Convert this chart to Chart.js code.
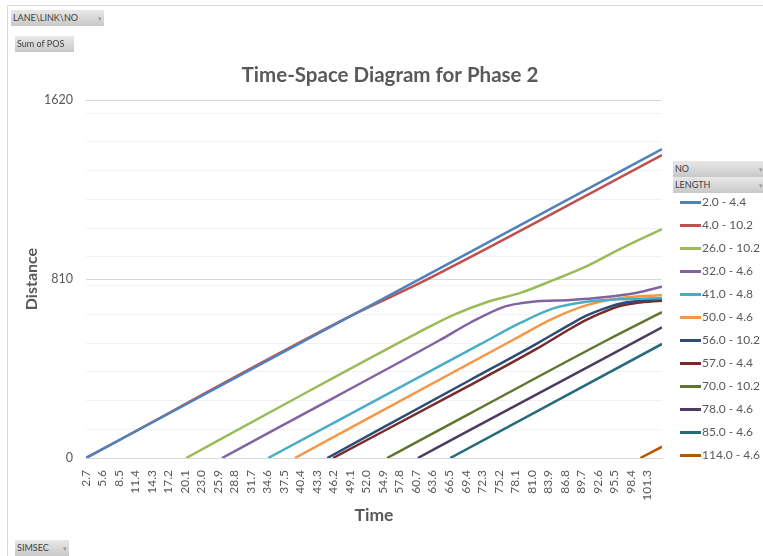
<!DOCTYPE html>
<html>
<head>
<meta charset="utf-8">
<title>Time-Space Diagram for Phase 2</title>
<script src="https://cdn.jsdelivr.net/npm/chart.js@4/dist/chart.umd.min.js"></script>
<style>
  html, body { margin: 0; padding: 0; background: #fff; }
  #wrap { position: relative; width: 763px; height: 556px; overflow: hidden; font-family: Lato, "Liberation Sans", sans-serif; }
  #frame { position: absolute; left: 7px; top: 5px; width: 900px; height: 700px; border-left: 1px solid #d9d9d9; border-top: 1px solid #d9d9d9; }
  #chart { position: absolute; left: 0; top: 0; }
  .field { position: absolute; height: 16px; box-sizing: border-box; padding-left: 2px; font-size: 9px; line-height: 16px; color: #3f3f3f;
           background: linear-gradient(#e8e8e8, #c8c8c8); white-space: nowrap; }
  .field .arr { position: absolute; right: 2px; top: 0; font-size: 7px; color: #9a9a9a; }
  .lg-line { position: absolute; left: 680px; width: 21px; height: 3px; }
  .lg-text { position: absolute; left: 702px; font-size: 12px; line-height: 16px; color: #595959; white-space: nowrap; }
</style>
</head>
<body>
<div id="wrap">
  <div id="frame"></div>
  <canvas id="chart" width="763" height="556"></canvas>
  <div class="field" style="left:11px;top:10px;width:93px;">LANE\LINK\NO<span class="arr">&#9662;</span></div>
  <div class="field" style="left:15px;top:36px;width:59px;">Sum of POS</div>
  <div class="field" style="left:673px;top:161px;width:92px;">NO<span class="arr">&#9662;</span></div>
  <div class="field" style="left:673px;top:177px;width:92px;">LENGTH<span class="arr">&#9662;</span></div>
  <div class="field" style="left:15px;top:540px;width:54px;">SIMSEC<span class="arr">&#9662;</span></div>
  <div id="legend"></div>
</div>
<script>
// Category ticks along the time axis (seconds)
const timeTicks = [2.7, 5.6, 8.5, 11.4, 14.3, 17.2, 20.1, 23.0, 25.9, 28.8, 31.7, 34.6, 37.5, 40.4, 43.3,
  46.2, 49.1, 52.0, 54.9, 57.8, 60.7, 63.6, 66.5, 69.4, 72.3, 75.2, 78.1, 81.0, 83.9, 86.8, 89.7, 92.6,
  95.5, 98.4, 101.3];
const timeMin = 2.7;
const timeMax = 103.9;

// Distance axis: labelled ticks and the lighter in-between grid lines
const distanceTicks = [0, 810, 1620];
const distanceMinorGrid = [130, 260, 390, 520, 650, 780, 910, 1040, 1170, 1300, 1430, 1560];

// Vehicle (NO - LENGTH)
const vehicleLabels = ['2.0 - 4.4', '4.0 - 10.2', '26.0 - 10.2', '32.0 - 4.6', '41.0 - 4.8', '50.0 - 4.6',
  '56.0 - 10.2', '57.0 - 4.4', '70.0 - 10.2', '78.0 - 4.6', '85.0 - 4.6', '114.0 - 4.6'];

// Trajectories: simulation time (s) and position along the link
const veh2Time   = [2.7, 61.4, 103.9];
const veh2Pos    = [0, 811, 1398];
const veh4Time   = [2.7, 50.0, 61.4, 103.9];
const veh4Pos    = [0, 653, 792, 1371];
const veh26Time  = [20.3, 36.8, 61.4, 67.2, 73.2, 79.0, 84.8, 90.7, 96.5, 103.9];
const veh26Pos   = [0, 232, 572, 647, 706, 747, 805, 868, 945, 1036];
const veh32Time  = [26.6, 36.8, 64.9, 70.2, 76.0, 79.0, 82.0, 87.8, 93.6, 99.5, 103.9];
const veh32Pos   = [0, 142, 534, 612, 683, 700, 709, 715, 727, 748, 775];
const veh41Time  = [34.7, 72.0, 79.0, 84.8, 90.7, 96.5, 103.9];
const veh41Pos   = [0, 515, 611, 677, 707, 718, 724];
const veh50Time  = [39.4, 77.7, 84.8, 90.7, 96.5, 103.9];
const veh50Pos   = [0, 534, 632, 692, 723, 738];
const veh56Time  = [45.1, 70.2, 82.0, 87.8, 90.7, 93.6, 96.5, 99.5, 103.9];
const veh56Pos   = [0, 353, 519, 605, 645, 675, 698, 710, 719];
const veh57Time  = [46.1, 70.2, 82.0, 87.8, 90.7, 93.6, 96.5, 99.5, 103.9];
const veh57Pos   = [0, 330, 496, 585, 626, 660, 688, 702, 712];
const veh70Time  = [55.6, 70.2, 94.3, 103.9];
const veh70Pos   = [0, 202, 534, 660];
const veh78Time  = [61.0, 70.2, 103.9];
const veh78Pos   = [0, 127, 591];
const veh85Time  = [66.7, 103.9];
const veh85Pos   = [0, 516];
const veh114Time = [100.1, 103.9];
const veh114Pos  = [0, 51];

const trajectories = [
  [veh2Time, veh2Pos], [veh4Time, veh4Pos], [veh26Time, veh26Pos], [veh32Time, veh32Pos],
  [veh41Time, veh41Pos], [veh50Time, veh50Pos], [veh56Time, veh56Pos], [veh57Time, veh57Pos],
  [veh70Time, veh70Pos], [veh78Time, veh78Pos], [veh85Time, veh85Pos], [veh114Time, veh114Pos]
];

const lineColors = ['#4F81BD', '#C0504D', '#9BBB59', '#8064A2', '#4BACC6', '#F79646',
  '#2C4D75', '#772C2A', '#5F7530', '#4D3B62', '#276A7C', '#B65708'];

const chartTitle = 'Time-Space Diagram for Phase 2';
const FONT = 'Lato, "Liberation Sans", sans-serif';
const TEXT = '#595959';

const datasets = trajectories.map(([times, pos], i) => ({
  label: vehicleLabels[i],
  data: times.map((t, k) => ({ x: t, y: pos[k] })),
  borderColor: lineColors[i],
  backgroundColor: lineColors[i],
  borderWidth: 2.5,
  pointRadius: 0,
  pointHoverRadius: 0,
  fill: false,
  cubicInterpolationMode: 'monotone'
}));

// Title drawn over the plot
const titlePlugin = {
  id: 'diagramTitle',
  afterDraw(chart) {
    const ctx = chart.ctx;
    ctx.save();
    ctx.font = 'bold 20.5px ' + FONT;
    ctx.fillStyle = TEXT;
    ctx.textAlign = 'center';
    ctx.textBaseline = 'middle';
    ctx.fillText(chartTitle, 390, 75);
    ctx.restore();
  }
};

new Chart(document.getElementById('chart'), {
  type: 'line',
  data: { datasets },
  plugins: [titlePlugin],
  options: {
    responsive: false,
    animation: false,
    events: [],
    layout: { padding: { left: 0, right: 101, top: 100, bottom: 0 } },
    plugins: {
      legend: { display: false },
      title: { display: false },
      tooltip: { enabled: false }
    },
    scales: {
      x: {
        type: 'linear',
        min: timeMin,
        max: timeMax,
        afterBuildTicks: (scale) => { scale.ticks = timeTicks.map(v => ({ value: v })); },
        afterFit: (scale) => { scale.height = 98; },
        grid: { display: false },
        border: { display: true, color: '#d9d9d9', width: 1 },
        ticks: {
          autoSkip: false,
          minRotation: 90,
          maxRotation: 90,
          padding: 4,
          color: TEXT,
          font: { family: FONT, size: 12 },
          callback: (v) => Number(v).toFixed(1)
        },
        title: {
          display: true,
          text: 'Time',
          color: TEXT,
          font: { family: FONT, size: 17.5, weight: 'bold' },
          padding: { top: 0, bottom: 30 }
        }
      },
      y: {
        type: 'linear',
        min: 0,
        max: 1620,
        afterBuildTicks: (scale) => {
          scale.ticks = distanceTicks.concat(distanceMinorGrid).sort((a, b) => a - b).map(v => ({ value: v }));
        },
        afterFit: (scale) => { scale.width = 86; },
        grid: {
          drawTicks: false,
          lineWidth: 1,
          color: (c) => distanceTicks.includes(c.tick.value) ? '#d9d9d9' : '#f2f2f2'
        },
        border: { display: false },
        ticks: {
          padding: 13,
          color: TEXT,
          font: { family: FONT, size: 12.5 },
          callback: (v) => distanceTicks.includes(v) ? String(v) : ''
        },
        title: {
          display: true,
          text: 'Distance',
          color: TEXT,
          font: { family: FONT, size: 16, weight: 'bold' },
          padding: { top: 22, bottom: 0 }
        }
      }
    }
  }
});

// Series key on the right
const legend = document.getElementById('legend');
vehicleLabels.forEach((name, i) => {
  const cy = 202 + i * 23;
  const line = document.createElement('div');
  line.className = 'lg-line';
  line.style.top = (cy - 1.5) + 'px';
  line.style.background = lineColors[i];
  const txt = document.createElement('div');
  txt.className = 'lg-text';
  txt.style.top = (cy - 8) + 'px';
  txt.textContent = name;
  legend.appendChild(line);
  legend.appendChild(txt);
});
</script>
</body>
</html>
